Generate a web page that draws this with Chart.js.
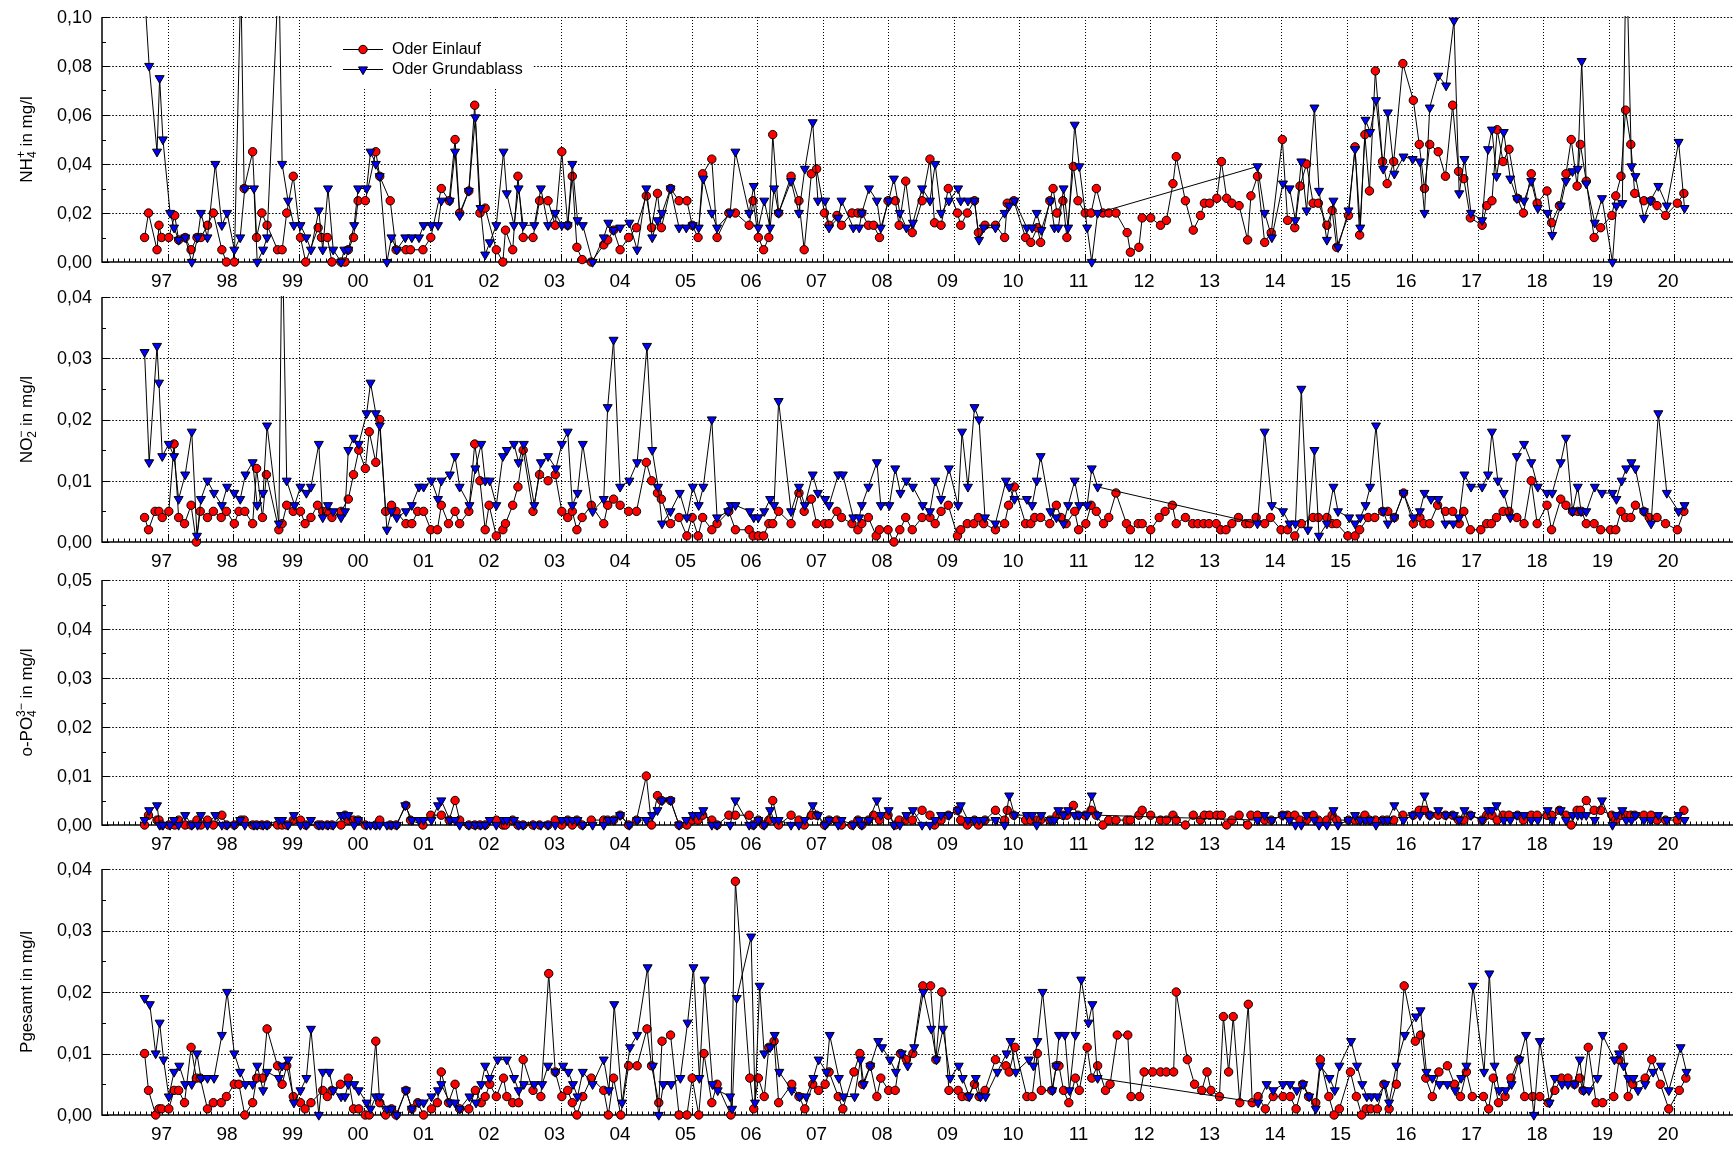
<!DOCTYPE html>
<html lang="de">
<head>
<meta charset="utf-8">
<title>Oder – Einlauf und Grundablass</title>
<script src="https://cdn.jsdelivr.net/npm/chart.js@4.4.1/dist/chart.umd.min.js"></script>
<style>
  html, body { margin: 0; padding: 0; background: #fff; }
  body { position: relative; width: 1733px; height: 1152px; overflow: hidden; }
  canvas { position: absolute; left: 0; }
</style>
</head>
<body>
<canvas id="pNH4" width="1733" height="300" style="top:0px"></canvas>
<canvas id="pNO2" width="1733" height="300" style="top:280px"></canvas>
<canvas id="pPO4" width="1733" height="300" style="top:563px"></canvas>
<canvas id="pPges" width="1733" height="301" style="top:852px"></canvas>
<script>
// Year labels on the time axis (one per calendar year, placed at 1 January)
const yearTickLabels = ['97','98','99','00','01','02','03','04','05','06','07','08','09','10','11','12','13','14','15','16','17','18','19','20'];

// Sampling date (decimal year) and concentration in mg/l

// NH4+
const nh4Einlauf = [[1996.65,0.010],[1996.71,0.020],[1996.84,0.005],[1996.87,0.015],[1996.91,0.010],[1997.02,0.010],[1997.11,0.019],[1997.17,0.009],[1997.27,0.010],[1997.36,0.005],[1997.45,0.010],[1997.51,0.010],[1997.61,0.015],[1997.70,0.020],[1997.83,0.005],[1997.90,0.000],[1998.02,0.000],[1998.12,0.115],[1998.17,0.030],[1998.30,0.045],[1998.36,0.010],[1998.44,0.020],[1998.52,0.015],[1998.68,0.005],[1998.75,0.005],[1998.82,0.020],[1998.92,0.035],[1999.03,0.010],[1999.11,0.000],[1999.30,0.014],[1999.35,0.010],[1999.44,0.010],[1999.51,0.000],[1999.65,0.000],[1999.71,0.000],[1999.76,0.005],[1999.84,0.010],[1999.91,0.025],[2000.02,0.025],[2000.18,0.045],[2000.24,0.035],[2000.40,0.025],[2000.49,0.005],[2000.64,0.005],[2000.71,0.005],[2000.90,0.005],[2001.02,0.010],[2001.18,0.030],[2001.30,0.025],[2001.39,0.050],[2001.46,0.020],[2001.60,0.029],[2001.69,0.064],[2001.77,0.020],[2001.85,0.022],[2002.02,0.005],[2002.12,0.000],[2002.16,0.013],[2002.27,0.005],[2002.35,0.035],[2002.43,0.010],[2002.58,0.010],[2002.68,0.025],[2002.81,0.025],[2002.92,0.015],[2003.02,0.045],[2003.11,0.015],[2003.18,0.035],[2003.25,0.006],[2003.33,0.001],[2003.47,0.000],[2003.66,0.007],[2003.72,0.009],[2003.81,0.013],[2003.91,0.005],[2004.04,0.010],[2004.16,0.014],[2004.31,0.027],[2004.39,0.014],[2004.48,0.028],[2004.54,0.014],[2004.68,0.030],[2004.81,0.025],[2004.93,0.025],[2005.01,0.015],[2005.10,0.010],[2005.17,0.036],[2005.31,0.042],[2005.39,0.010],[2005.57,0.020],[2005.67,0.020],[2005.88,0.015],[2005.94,0.025],[2006.02,0.010],[2006.10,0.005],[2006.18,0.010],[2006.24,0.052],[2006.33,0.020],[2006.52,0.035],[2006.64,0.025],[2006.72,0.005],[2006.83,0.036],[2006.91,0.038],[2007.03,0.020],[2007.10,0.015],[2007.22,0.019],[2007.29,0.015],[2007.45,0.020],[2007.54,0.020],[2007.60,0.020],[2007.70,0.015],[2007.78,0.015],[2007.87,0.010],[2008.00,0.025],[2008.11,0.025],[2008.17,0.015],[2008.27,0.033],[2008.37,0.012],[2008.52,0.025],[2008.64,0.042],[2008.71,0.016],[2008.81,0.015],[2008.92,0.030],[2009.06,0.020],[2009.11,0.015],[2009.21,0.020],[2009.32,0.025],[2009.38,0.012],[2009.48,0.015],[2009.64,0.015],[2009.78,0.010],[2009.82,0.024],[2009.92,0.025],[2010.10,0.010],[2010.18,0.008],[2010.28,0.014],[2010.33,0.008],[2010.47,0.025],[2010.52,0.030],[2010.58,0.020],[2010.67,0.025],[2010.73,0.010],[2010.83,0.039],[2010.90,0.025],[2011.01,0.020],[2011.10,0.020],[2011.18,0.030],[2011.28,0.020],[2011.37,0.020],[2011.48,0.020],[2011.65,0.012],[2011.70,0.004],[2011.83,0.006],[2011.88,0.018],[2012.01,0.018],[2012.16,0.015],[2012.25,0.017],[2012.35,0.032],[2012.40,0.043],[2012.54,0.025],[2012.66,0.013],[2012.77,0.019],[2012.83,0.024],[2012.91,0.024],[2013.02,0.026],[2013.09,0.041],[2013.17,0.026],[2013.25,0.024],[2013.36,0.023],[2013.49,0.009],[2013.54,0.027],[2013.64,0.035],[2013.75,0.008],[2013.85,0.012],[2014.02,0.050],[2014.10,0.017],[2014.21,0.014],[2014.29,0.031],[2014.39,0.040],[2014.49,0.024],[2014.57,0.024],[2014.70,0.015],[2014.78,0.021],[2014.85,0.006],[2015.03,0.019],[2015.13,0.047],[2015.20,0.011],[2015.28,0.052],[2015.35,0.029],[2015.44,0.078],[2015.55,0.041],[2015.62,0.032],[2015.72,0.041],[2015.86,0.081],[2016.02,0.066],[2016.11,0.048],[2016.19,0.030],[2016.27,0.048],[2016.40,0.045],[2016.51,0.035],[2016.62,0.064],[2016.71,0.037],[2016.79,0.034],[2016.89,0.018],[2017.07,0.015],[2017.14,0.023],[2017.22,0.025],[2017.30,0.054],[2017.39,0.041],[2017.48,0.046],[2017.61,0.026],[2017.70,0.020],[2017.82,0.036],[2017.91,0.024],[2018.06,0.029],[2018.13,0.016],[2018.25,0.023],[2018.35,0.036],[2018.43,0.050],[2018.52,0.031],[2018.57,0.048],[2018.66,0.033],[2018.78,0.010],[2018.88,0.014],[2019.05,0.019],[2019.11,0.027],[2019.19,0.035],[2019.26,0.062],[2019.34,0.048],[2019.40,0.028],[2019.54,0.025],[2019.65,0.025],[2019.74,0.023],[2019.87,0.019],[2020.05,0.024],[2020.15,0.028]];
const nh4Grundablass = [[1996.65,0.110],[1996.72,0.080],[1996.84,0.045],[1996.88,0.075],[1996.93,0.050],[1997.04,0.020],[1997.10,0.014],[1997.17,0.009],[1997.27,0.010],[1997.37,0.000],[1997.46,0.010],[1997.51,0.020],[1997.61,0.010],[1997.73,0.040],[1997.83,0.015],[1997.91,0.020],[1998.02,0.005],[1998.11,0.010],[1998.18,0.030],[1998.32,0.030],[1998.37,0.000],[1998.46,0.005],[1998.52,0.010],[1998.70,0.120],[1998.75,0.040],[1998.84,0.025],[1998.93,0.015],[1999.03,0.015],[1999.12,0.010],[1999.19,0.005],[1999.31,0.021],[1999.37,0.005],[1999.45,0.030],[1999.53,0.005],[1999.65,0.000],[1999.70,0.005],[1999.76,0.005],[1999.85,0.015],[1999.91,0.030],[2000.04,0.030],[2000.10,0.045],[2000.18,0.040],[2000.24,0.035],[2000.35,0.000],[2000.42,0.010],[2000.50,0.005],[2000.63,0.010],[2000.73,0.010],[2000.84,0.010],[2000.91,0.015],[2001.03,0.015],[2001.13,0.015],[2001.18,0.025],[2001.31,0.025],[2001.39,0.045],[2001.46,0.019],[2001.60,0.029],[2001.70,0.059],[2001.78,0.022],[2001.85,0.003],[2001.92,0.008],[2002.02,0.015],[2002.13,0.045],[2002.18,0.028],[2002.29,0.015],[2002.36,0.030],[2002.43,0.015],[2002.60,0.015],[2002.70,0.030],[2002.81,0.015],[2002.92,0.020],[2003.02,0.015],[2003.11,0.015],[2003.18,0.040],[2003.26,0.017],[2003.34,0.015],[2003.49,0.000],[2003.66,0.010],[2003.73,0.016],[2003.81,0.013],[2003.91,0.014],[2004.05,0.016],[2004.17,0.005],[2004.31,0.030],[2004.40,0.010],[2004.48,0.017],[2004.55,0.020],[2004.68,0.030],[2004.81,0.014],[2004.92,0.014],[2005.02,0.015],[2005.11,0.014],[2005.18,0.034],[2005.31,0.020],[2005.39,0.014],[2005.59,0.020],[2005.67,0.045],[2005.88,0.020],[2005.95,0.031],[2006.02,0.014],[2006.11,0.025],[2006.20,0.014],[2006.26,0.030],[2006.33,0.020],[2006.52,0.033],[2006.64,0.020],[2006.73,0.038],[2006.85,0.057],[2006.93,0.025],[2007.04,0.025],[2007.10,0.014],[2007.24,0.018],[2007.29,0.025],[2007.47,0.014],[2007.56,0.014],[2007.60,0.020],[2007.71,0.030],[2007.83,0.025],[2007.89,0.014],[2008.01,0.025],[2008.09,0.034],[2008.18,0.020],[2008.28,0.014],[2008.38,0.016],[2008.52,0.030],[2008.64,0.025],[2008.72,0.040],[2008.81,0.020],[2008.93,0.025],[2009.07,0.030],[2009.11,0.025],[2009.22,0.025],[2009.32,0.025],[2009.39,0.009],[2009.46,0.014],[2009.64,0.014],[2009.78,0.020],[2009.85,0.023],[2009.93,0.025],[2010.12,0.014],[2010.20,0.014],[2010.27,0.020],[2010.34,0.013],[2010.48,0.025],[2010.54,0.014],[2010.60,0.014],[2010.68,0.030],[2010.75,0.014],[2010.85,0.056],[2010.92,0.039],[2011.04,0.014],[2011.11,0.000],[2011.20,0.020],[2013.64,0.039],[2013.75,0.020],[2013.86,0.010],[2014.03,0.032],[2014.13,0.030],[2014.22,0.017],[2014.31,0.041],[2014.39,0.021],[2014.51,0.063],[2014.58,0.029],[2014.70,0.009],[2014.80,0.025],[2014.87,0.006],[2015.03,0.021],[2015.13,0.046],[2015.21,0.014],[2015.29,0.058],[2015.36,0.053],[2015.45,0.066],[2015.56,0.038],[2015.63,0.061],[2015.73,0.036],[2015.87,0.043],[2016.01,0.042],[2016.12,0.041],[2016.19,0.020],[2016.27,0.063],[2016.40,0.076],[2016.52,0.072],[2016.64,0.0985],[2016.72,0.028],[2016.80,0.042],[2016.90,0.020],[2017.07,0.017],[2017.16,0.046],[2017.22,0.054],[2017.29,0.035],[2017.40,0.053],[2017.50,0.034],[2017.60,0.026],[2017.71,0.025],[2017.82,0.033],[2017.92,0.022],[2018.07,0.020],[2018.14,0.011],[2018.27,0.023],[2018.35,0.033],[2018.45,0.037],[2018.53,0.038],[2018.59,0.082],[2018.66,0.032],[2018.79,0.016],[2018.90,0.026],[2019.06,0.000],[2019.12,0.023],[2019.21,0.024],[2019.27,0.130],[2019.35,0.039],[2019.41,0.035],[2019.54,0.018],[2019.64,0.025],[2019.76,0.031],[2019.89,0.023],[2020.07,0.049],[2020.16,0.022]];

// NO2-
const no2Einlauf = [[1996.65,0.004],[1996.71,0.002],[1996.81,0.005],[1996.87,0.005],[1996.92,0.004],[1997.02,0.005],[1997.10,0.016],[1997.17,0.004],[1997.26,0.003],[1997.36,0.006],[1997.44,0.000],[1997.50,0.005],[1997.61,0.004],[1997.70,0.005],[1997.82,0.004],[1997.90,0.005],[1998.02,0.003],[1998.09,0.005],[1998.18,0.005],[1998.30,0.003],[1998.36,0.012],[1998.45,0.004],[1998.51,0.011],[1998.70,0.002],[1998.75,0.003],[1998.82,0.006],[1998.92,0.005],[1999.03,0.005],[1999.10,0.003],[1999.19,0.004],[1999.29,0.006],[1999.37,0.005],[1999.44,0.005],[1999.51,0.004],[1999.65,0.005],[1999.76,0.007],[1999.84,0.011],[1999.92,0.015],[2000.02,0.012],[2000.08,0.018],[2000.18,0.013],[2000.24,0.020],[2000.33,0.005],[2000.42,0.006],[2000.49,0.005],[2000.64,0.003],[2000.73,0.003],[2000.82,0.005],[2000.91,0.005],[2001.02,0.002],[2001.12,0.002],[2001.18,0.006],[2001.29,0.003],[2001.39,0.005],[2001.46,0.003],[2001.60,0.005],[2001.69,0.016],[2001.77,0.010],[2001.85,0.002],[2001.91,0.006],[2002.02,0.001],[2002.12,0.002],[2002.16,0.003],[2002.27,0.006],[2002.35,0.009],[2002.43,0.015],[2002.58,0.005],[2002.68,0.011],[2002.81,0.010],[2002.92,0.011],[2003.02,0.005],[2003.11,0.004],[2003.18,0.005],[2003.25,0.002],[2003.33,0.004],[2003.47,0.006],[2003.66,0.003],[2003.72,0.006],[2003.81,0.007],[2003.91,0.006],[2004.04,0.005],[2004.16,0.005],[2004.31,0.013],[2004.39,0.010],[2004.48,0.008],[2004.54,0.007],[2004.68,0.003],[2004.81,0.004],[2004.93,0.001],[2005.01,0.004],[2005.10,0.001],[2005.17,0.004],[2005.31,0.002],[2005.39,0.003],[2005.57,0.005],[2005.67,0.002],[2005.88,0.002],[2005.94,0.001],[2006.02,0.001],[2006.10,0.001],[2006.18,0.003],[2006.24,0.003],[2006.33,0.005],[2006.52,0.003],[2006.64,0.008],[2006.72,0.005],[2006.83,0.007],[2006.91,0.003],[2007.03,0.003],[2007.10,0.003],[2007.22,0.005],[2007.29,0.004],[2007.45,0.003],[2007.54,0.002],[2007.60,0.003],[2007.70,0.004],[2007.82,0.001],[2007.87,0.002],[2008.00,0.002],[2008.09,0.000],[2008.18,0.002],[2008.27,0.004],[2008.37,0.002],[2008.52,0.004],[2008.64,0.004],[2008.72,0.003],[2008.81,0.005],[2008.92,0.006],[2009.06,0.001],[2009.11,0.002],[2009.21,0.003],[2009.31,0.003],[2009.38,0.004],[2009.46,0.003],[2009.64,0.002],[2009.78,0.003],[2009.84,0.006],[2009.93,0.009],[2010.10,0.003],[2010.18,0.003],[2010.24,0.004],[2010.33,0.004],[2010.47,0.003],[2010.57,0.006],[2010.64,0.004],[2010.72,0.003],[2010.85,0.005],[2010.91,0.002],[2011.02,0.003],[2011.10,0.006],[2011.18,0.005],[2011.29,0.003],[2011.37,0.004],[2011.48,0.008],[2011.64,0.003],[2011.70,0.002],[2011.82,0.003],[2011.88,0.003],[2012.01,0.002],[2012.14,0.004],[2012.23,0.005],[2012.34,0.006],[2012.40,0.003],[2012.54,0.004],[2012.65,0.003],[2012.73,0.003],[2012.82,0.003],[2012.90,0.003],[2013.01,0.003],[2013.08,0.002],[2013.16,0.002],[2013.25,0.003],[2013.35,0.004],[2013.46,0.003],[2013.52,0.003],[2013.62,0.004],[2013.75,0.003],[2013.84,0.004],[2014.00,0.002],[2014.10,0.002],[2014.21,0.001],[2014.31,0.003],[2014.49,0.004],[2014.57,0.004],[2014.70,0.004],[2014.78,0.003],[2014.85,0.003],[2015.02,0.001],[2015.13,0.001],[2015.20,0.002],[2015.33,0.004],[2015.43,0.004],[2015.55,0.005],[2015.63,0.005],[2015.73,0.004],[2015.87,0.008],[2016.02,0.003],[2016.12,0.004],[2016.18,0.003],[2016.27,0.003],[2016.39,0.006],[2016.51,0.005],[2016.62,0.005],[2016.72,0.003],[2016.79,0.005],[2016.89,0.002],[2017.05,0.002],[2017.14,0.003],[2017.21,0.003],[2017.29,0.004],[2017.39,0.005],[2017.48,0.005],[2017.60,0.004],[2017.71,0.003],[2017.82,0.010],[2017.91,0.003],[2018.06,0.006],[2018.13,0.002],[2018.27,0.007],[2018.35,0.006],[2018.45,0.005],[2018.53,0.005],[2018.59,0.005],[2018.66,0.003],[2018.78,0.003],[2018.88,0.002],[2019.03,0.002],[2019.11,0.002],[2019.19,0.005],[2019.26,0.004],[2019.34,0.004],[2019.41,0.006],[2019.54,0.005],[2019.62,0.004],[2019.74,0.004],[2019.87,0.003],[2020.05,0.002],[2020.15,0.005]];
const no2Grundablass = [[1996.65,0.031],[1996.72,0.013],[1996.84,0.032],[1996.87,0.026],[1996.92,0.014],[1997.02,0.016],[1997.10,0.014],[1997.17,0.007],[1997.27,0.011],[1997.37,0.018],[1997.45,0.001],[1997.51,0.007],[1997.61,0.010],[1997.71,0.008],[1997.83,0.006],[1997.91,0.009],[1998.02,0.008],[1998.11,0.007],[1998.19,0.011],[1998.30,0.013],[1998.37,0.006],[1998.46,0.008],[1998.52,0.019],[1998.70,0.003],[1998.75,0.052],[1998.82,0.010],[1998.94,0.006],[1999.03,0.009],[1999.12,0.008],[1999.19,0.009],[1999.31,0.016],[1999.37,0.004],[1999.45,0.006],[1999.53,0.005],[1999.65,0.004],[1999.71,0.005],[1999.76,0.015],[1999.84,0.017],[1999.92,0.016],[2000.04,0.021],[2000.10,0.026],[2000.18,0.021],[2000.24,0.019],[2000.35,0.002],[2000.42,0.005],[2000.50,0.004],[2000.64,0.005],[2000.73,0.006],[2000.84,0.009],[2000.91,0.009],[2001.03,0.010],[2001.13,0.007],[2001.18,0.010],[2001.31,0.011],[2001.39,0.014],[2001.46,0.009],[2001.61,0.006],[2001.70,0.012],[2001.79,0.016],[2001.85,0.010],[2001.92,0.010],[2002.02,0.006],[2002.12,0.014],[2002.18,0.015],[2002.29,0.016],[2002.36,0.013],[2002.44,0.016],[2002.60,0.006],[2002.70,0.013],[2002.81,0.014],[2002.93,0.012],[2003.02,0.016],[2003.11,0.018],[2003.18,0.006],[2003.26,0.008],[2003.34,0.016],[2003.49,0.005],[2003.66,0.007],[2003.72,0.022],[2003.81,0.033],[2003.91,0.009],[2004.05,0.010],[2004.17,0.013],[2004.32,0.032],[2004.40,0.015],[2004.49,0.009],[2004.55,0.003],[2004.68,0.005],[2004.82,0.008],[2004.93,0.004],[2005.02,0.009],[2005.11,0.006],[2005.18,0.009],[2005.31,0.020],[2005.39,0.004],[2005.56,0.005],[2005.60,0.006],[2005.67,0.006],[2005.89,0.005],[2005.95,0.004],[2006.02,0.004],[2006.11,0.005],[2006.20,0.007],[2006.26,0.006],[2006.33,0.023],[2006.52,0.005],[2006.64,0.009],[2006.73,0.006],[2006.85,0.011],[2006.93,0.008],[2007.04,0.007],[2007.10,0.006],[2007.24,0.011],[2007.31,0.011],[2007.47,0.004],[2007.56,0.004],[2007.60,0.006],[2007.70,0.009],[2007.83,0.013],[2007.89,0.006],[2008.02,0.006],[2008.11,0.012],[2008.19,0.008],[2008.28,0.010],[2008.38,0.009],[2008.53,0.006],[2008.64,0.005],[2008.72,0.010],[2008.81,0.007],[2008.93,0.012],[2009.07,0.006],[2009.13,0.018],[2009.22,0.009],[2009.32,0.022],[2009.39,0.020],[2009.48,0.004],[2009.64,0.003],[2009.80,0.010],[2009.85,0.009],[2009.93,0.007],[2010.12,0.007],[2010.20,0.006],[2010.27,0.010],[2010.33,0.014],[2010.48,0.005],[2010.57,0.004],[2010.68,0.003],[2010.75,0.006],[2010.85,0.010],[2010.92,0.006],[2011.04,0.006],[2011.11,0.012],[2011.20,0.009],[2013.64,0.003],[2013.75,0.018],[2013.86,0.006],[2014.03,0.005],[2014.13,0.003],[2014.22,0.003],[2014.31,0.025],[2014.41,0.002],[2014.51,0.015],[2014.58,0.001],[2014.70,0.003],[2014.80,0.009],[2014.87,0.005],[2015.04,0.004],[2015.13,0.003],[2015.21,0.004],[2015.29,0.006],[2015.36,0.009],[2015.45,0.019],[2015.56,0.005],[2015.63,0.003],[2015.73,0.004],[2015.87,0.008],[2016.02,0.004],[2016.12,0.005],[2016.19,0.008],[2016.29,0.007],[2016.40,0.007],[2016.51,0.003],[2016.63,0.003],[2016.72,0.004],[2016.80,0.011],[2016.90,0.009],[2017.07,0.009],[2017.16,0.011],[2017.22,0.018],[2017.31,0.010],[2017.40,0.008],[2017.50,0.004],[2017.60,0.014],[2017.71,0.016],[2017.82,0.013],[2017.92,0.009],[2018.06,0.008],[2018.14,0.008],[2018.27,0.013],[2018.35,0.017],[2018.45,0.005],[2018.53,0.009],[2018.58,0.005],[2018.66,0.005],[2018.79,0.009],[2018.90,0.008],[2019.06,0.008],[2019.12,0.007],[2019.20,0.010],[2019.27,0.012],[2019.35,0.013],[2019.41,0.012],[2019.54,0.005],[2019.65,0.003],[2019.76,0.021],[2019.89,0.008],[2020.07,0.005],[2020.16,0.006]];

// o-PO4 3-
const po4Einlauf = [[1996.65,0.000],[1996.71,0.002],[1996.84,0.001],[1996.87,0.001],[1996.91,0.000],[1997.02,0.000],[1997.11,0.000],[1997.17,0.001],[1997.27,0.000],[1997.36,0.000],[1997.45,0.001],[1997.51,0.000],[1997.61,0.001],[1997.70,0.000],[1997.83,0.002],[1997.90,0.000],[1998.02,0.000],[1998.12,0.001],[1998.17,0.001],[1998.30,0.000],[1998.36,0.000],[1998.44,0.000],[1998.52,0.000],[1998.68,0.000],[1998.75,0.000],[1998.82,0.000],[1998.92,0.001],[1999.03,0.001],[1999.11,0.000],[1999.30,0.000],[1999.35,0.000],[1999.44,0.000],[1999.51,0.000],[1999.65,0.000],[1999.71,0.002],[1999.76,0.001],[1999.84,0.001],[1999.91,0.001],[2000.02,0.000],[2000.18,0.000],[2000.24,0.001],[2000.40,0.000],[2000.49,0.000],[2000.64,0.004],[2000.71,0.001],[2000.90,0.000],[2001.02,0.002],[2001.18,0.002],[2001.30,0.001],[2001.39,0.005],[2001.46,0.001],[2001.60,0.000],[2001.69,0.000],[2001.77,0.000],[2001.85,0.000],[2002.02,0.001],[2002.12,0.000],[2002.16,0.000],[2002.27,0.001],[2002.35,0.000],[2002.43,0.000],[2002.58,0.000],[2002.68,0.000],[2002.81,0.000],[2002.92,0.001],[2003.02,0.000],[2003.11,0.001],[2003.18,0.000],[2003.25,0.001],[2003.33,0.000],[2003.47,0.001],[2003.66,0.001],[2003.72,0.001],[2003.81,0.001],[2003.91,0.002],[2004.04,0.000],[2004.16,0.001],[2004.31,0.010],[2004.39,0.000],[2004.48,0.006],[2004.54,0.005],[2004.68,0.005],[2004.81,0.000],[2004.93,0.000],[2005.01,0.001],[2005.10,0.001],[2005.17,0.002],[2005.31,0.001],[2005.39,0.000],[2005.57,0.002],[2005.67,0.002],[2005.88,0.002],[2005.94,0.000],[2006.02,0.001],[2006.10,0.000],[2006.18,0.001],[2006.24,0.005],[2006.33,0.000],[2006.52,0.002],[2006.64,0.001],[2006.72,0.000],[2006.83,0.002],[2006.91,0.002],[2007.03,0.000],[2007.10,0.001],[2007.22,0.001],[2007.29,0.000],[2007.45,0.000],[2007.54,0.001],[2007.60,0.000],[2007.70,0.001],[2007.78,0.002],[2007.87,0.001],[2008.00,0.002],[2008.11,0.000],[2008.17,0.001],[2008.27,0.001],[2008.37,0.001],[2008.52,0.003],[2008.64,0.002],[2008.71,0.000],[2008.81,0.001],[2008.92,0.002],[2009.06,0.003],[2009.11,0.001],[2009.21,0.000],[2009.32,0.001],[2009.38,0.000],[2009.48,0.001],[2009.64,0.003],[2009.78,0.001],[2009.82,0.003],[2009.92,0.002],[2010.10,0.001],[2010.18,0.001],[2010.28,0.001],[2010.33,0.001],[2010.47,0.001],[2010.52,0.001],[2010.58,0.002],[2010.67,0.002],[2010.73,0.002],[2010.83,0.004],[2010.90,0.002],[2011.01,0.002],[2011.10,0.003],[2011.18,0.002],[2011.28,0.000],[2011.37,0.001],[2011.48,0.001],[2011.65,0.001],[2011.70,0.001],[2011.83,0.002],[2011.88,0.003],[2012.01,0.002],[2012.16,0.001],[2012.25,0.001],[2012.35,0.002],[2012.40,0.001],[2012.54,0.000],[2012.66,0.002],[2012.77,0.001],[2012.83,0.002],[2012.91,0.002],[2013.02,0.002],[2013.09,0.002],[2013.17,0.000],[2013.25,0.001],[2013.36,0.002],[2013.49,0.000],[2013.54,0.002],[2013.64,0.002],[2013.75,0.001],[2013.85,0.001],[2014.02,0.002],[2014.10,0.002],[2014.21,0.002],[2014.29,0.001],[2014.39,0.001],[2014.49,0.002],[2014.57,0.001],[2014.70,0.001],[2014.78,0.002],[2014.85,0.001],[2015.03,0.001],[2015.13,0.001],[2015.20,0.001],[2015.28,0.002],[2015.35,0.001],[2015.44,0.001],[2015.55,0.001],[2015.62,0.001],[2015.72,0.001],[2015.86,0.002],[2016.02,0.002],[2016.11,0.003],[2016.19,0.003],[2016.27,0.002],[2016.40,0.002],[2016.51,0.002],[2016.62,0.002],[2016.71,0.001],[2016.79,0.001],[2016.89,0.002],[2017.07,0.001],[2017.14,0.002],[2017.22,0.002],[2017.30,0.001],[2017.39,0.002],[2017.48,0.002],[2017.61,0.002],[2017.70,0.001],[2017.82,0.002],[2017.91,0.002],[2018.06,0.002],[2018.13,0.002],[2018.25,0.003],[2018.35,0.002],[2018.43,0.000],[2018.52,0.003],[2018.57,0.003],[2018.66,0.005],[2018.78,0.003],[2018.88,0.003],[2019.05,0.002],[2019.11,0.001],[2019.19,0.002],[2019.26,0.002],[2019.34,0.002],[2019.40,0.002],[2019.54,0.002],[2019.65,0.002],[2019.74,0.001],[2019.87,0.001],[2020.05,0.001],[2020.15,0.003]];
const po4Grundablass = [[1996.65,0.001],[1996.72,0.003],[1996.84,0.004],[1996.88,0.000],[1996.93,0.000],[1997.04,0.000],[1997.10,0.001],[1997.17,0.000],[1997.27,0.002],[1997.37,0.000],[1997.46,0.000],[1997.51,0.002],[1997.61,0.000],[1997.73,0.002],[1997.83,0.000],[1997.91,0.000],[1998.02,0.000],[1998.11,0.001],[1998.18,0.000],[1998.32,0.000],[1998.37,0.000],[1998.46,0.000],[1998.52,0.000],[1998.70,0.001],[1998.75,0.001],[1998.84,0.000],[1998.93,0.002],[1999.03,0.000],[1999.12,0.000],[1999.19,0.001],[1999.31,0.000],[1999.37,0.000],[1999.45,0.000],[1999.53,0.000],[1999.65,0.002],[1999.70,0.002],[1999.76,0.002],[1999.85,0.000],[1999.91,0.001],[2000.04,0.000],[2000.10,0.000],[2000.18,0.000],[2000.24,0.000],[2000.35,0.000],[2000.42,0.000],[2000.50,0.000],[2000.63,0.004],[2000.73,0.001],[2000.84,0.001],[2000.91,0.001],[2001.03,0.001],[2001.13,0.004],[2001.18,0.005],[2001.31,0.001],[2001.39,0.001],[2001.46,0.000],[2001.60,0.000],[2001.70,0.000],[2001.78,0.000],[2001.85,0.000],[2001.92,0.001],[2002.02,0.000],[2002.13,0.001],[2002.18,0.001],[2002.29,0.001],[2002.36,0.000],[2002.43,0.000],[2002.60,0.000],[2002.70,0.000],[2002.81,0.000],[2002.92,0.000],[2003.02,0.001],[2003.11,0.001],[2003.18,0.001],[2003.26,0.001],[2003.34,0.000],[2003.49,0.000],[2003.66,0.000],[2003.73,0.001],[2003.81,0.001],[2003.91,0.002],[2004.05,0.000],[2004.17,0.001],[2004.31,0.001],[2004.40,0.002],[2004.48,0.003],[2004.55,0.005],[2004.68,0.005],[2004.81,0.000],[2004.92,0.001],[2005.02,0.002],[2005.11,0.002],[2005.18,0.003],[2005.31,0.000],[2005.39,0.000],[2005.59,0.000],[2005.67,0.005],[2005.88,0.000],[2005.95,0.000],[2006.02,0.001],[2006.11,0.000],[2006.20,0.003],[2006.26,0.001],[2006.33,0.001],[2006.52,0.000],[2006.64,0.000],[2006.73,0.001],[2006.85,0.004],[2006.93,0.002],[2007.04,0.000],[2007.10,0.001],[2007.24,0.000],[2007.29,0.001],[2007.47,0.000],[2007.56,0.001],[2007.60,0.000],[2007.71,0.001],[2007.83,0.005],[2007.89,0.002],[2008.01,0.003],[2008.09,0.000],[2008.18,0.000],[2008.28,0.002],[2008.38,0.003],[2008.52,0.000],[2008.64,0.000],[2008.72,0.001],[2008.81,0.002],[2008.93,0.002],[2009.07,0.003],[2009.11,0.004],[2009.22,0.001],[2009.32,0.001],[2009.39,0.001],[2009.46,0.001],[2009.64,0.001],[2009.78,0.000],[2009.85,0.006],[2009.93,0.002],[2010.12,0.002],[2010.20,0.002],[2010.27,0.000],[2010.34,0.002],[2010.48,0.001],[2010.54,0.001],[2010.60,0.003],[2010.68,0.002],[2010.75,0.003],[2010.85,0.002],[2010.92,0.002],[2011.04,0.002],[2011.11,0.006],[2011.20,0.002],[2013.64,0.001],[2013.75,0.002],[2013.86,0.001],[2014.03,0.002],[2014.13,0.001],[2014.22,0.000],[2014.31,0.000],[2014.39,0.002],[2014.51,0.001],[2014.58,0.000],[2014.70,0.000],[2014.80,0.003],[2014.87,0.000],[2015.03,0.001],[2015.13,0.002],[2015.21,0.001],[2015.29,0.001],[2015.36,0.001],[2015.45,0.000],[2015.56,0.001],[2015.63,0.001],[2015.73,0.004],[2015.87,0.001],[2016.01,0.002],[2016.12,0.002],[2016.19,0.006],[2016.27,0.002],[2016.40,0.003],[2016.52,0.002],[2016.64,0.002],[2016.72,0.001],[2016.80,0.003],[2016.90,0.002],[2017.07,0.001],[2017.16,0.003],[2017.22,0.003],[2017.29,0.004],[2017.40,0.001],[2017.50,0.001],[2017.60,0.002],[2017.71,0.002],[2017.82,0.001],[2017.92,0.001],[2018.07,0.003],[2018.14,0.001],[2018.27,0.003],[2018.35,0.001],[2018.45,0.002],[2018.53,0.002],[2018.59,0.002],[2018.66,0.002],[2018.79,0.001],[2018.90,0.005],[2019.06,0.000],[2019.12,0.002],[2019.21,0.003],[2019.27,0.001],[2019.35,0.001],[2019.41,0.002],[2019.54,0.001],[2019.64,0.001],[2019.76,0.002],[2019.89,0.001],[2020.07,0.002],[2020.16,0.001]];

// P gesamt
const pgesEinlauf = [[1996.65,0.010],[1996.71,0.004],[1996.82,0.000],[1996.87,0.001],[1996.91,0.001],[1997.02,0.001],[1997.10,0.004],[1997.17,0.004],[1997.26,0.002],[1997.36,0.011],[1997.44,0.006],[1997.50,0.006],[1997.61,0.001],[1997.70,0.002],[1997.82,0.002],[1997.90,0.003],[1998.02,0.005],[1998.09,0.005],[1998.18,0.000],[1998.30,0.002],[1998.36,0.006],[1998.45,0.006],[1998.52,0.014],[1998.68,0.008],[1998.75,0.005],[1998.82,0.008],[1998.92,0.003],[1999.03,0.002],[1999.10,0.001],[1999.19,0.002],[1999.37,0.004],[1999.44,0.003],[1999.51,0.004],[1999.64,0.005],[1999.76,0.006],[1999.84,0.001],[1999.92,0.001],[2000.02,0.000],[2000.08,0.000],[2000.18,0.012],[2000.24,0.002],[2000.33,0.000],[2000.42,0.001],[2000.49,0.000],[2000.64,0.004],[2000.73,0.001],[2000.82,0.002],[2000.91,0.000],[2001.03,0.001],[2001.12,0.002],[2001.18,0.007],[2001.29,0.002],[2001.39,0.005],[2001.46,0.001],[2001.60,0.001],[2001.70,0.004],[2001.79,0.002],[2001.85,0.003],[2001.92,0.005],[2002.02,0.003],[2002.13,0.006],[2002.18,0.003],[2002.27,0.002],[2002.36,0.002],[2002.43,0.009],[2002.58,0.004],[2002.70,0.003],[2002.82,0.023],[2002.92,0.007],[2003.02,0.003],[2003.11,0.004],[2003.18,0.002],[2003.25,0.000],[2003.34,0.003],[2003.47,0.006],[2003.66,0.004],[2003.73,0.000],[2003.81,0.006],[2003.92,0.000],[2004.04,0.008],[2004.17,0.008],[2004.32,0.014],[2004.39,0.008],[2004.50,0.002],[2004.55,0.012],[2004.68,0.013],[2004.81,0.000],[2004.93,0.000],[2005.01,0.006],[2005.11,0.000],[2005.19,0.010],[2005.31,0.002],[2005.39,0.005],[2005.60,0.000],[2005.67,0.038],[2005.89,0.006],[2005.95,0.001],[2006.02,0.006],[2006.11,0.003],[2006.18,0.011],[2006.26,0.012],[2006.33,0.002],[2006.53,0.005],[2006.64,0.003],[2006.73,0.001],[2006.85,0.005],[2006.94,0.004],[2007.04,0.005],[2007.10,0.007],[2007.24,0.003],[2007.31,0.001],[2007.48,0.007],[2007.57,0.010],[2007.61,0.005],[2007.73,0.008],[2007.83,0.003],[2007.89,0.006],[2008.01,0.004],[2008.11,0.004],[2008.19,0.010],[2008.28,0.009],[2008.38,0.010],[2008.53,0.021],[2008.65,0.021],[2008.73,0.009],[2008.82,0.020],[2008.93,0.004],[2009.07,0.004],[2009.13,0.003],[2009.22,0.003],[2009.32,0.005],[2009.39,0.003],[2009.48,0.004],[2009.64,0.009],[2009.80,0.008],[2009.85,0.007],[2009.94,0.011],[2010.12,0.003],[2010.20,0.003],[2010.28,0.010],[2010.34,0.004],[2010.50,0.004],[2010.57,0.008],[2010.61,0.008],[2010.68,0.004],[2010.76,0.002],[2010.86,0.006],[2010.92,0.004],[2011.04,0.011],[2011.11,0.006],[2011.20,0.008],[2011.32,0.004],[2011.39,0.005],[2011.50,0.013],[2011.66,0.013],[2011.71,0.003],[2011.84,0.003],[2011.91,0.007],[2012.04,0.007],[2012.16,0.007],[2012.25,0.007],[2012.36,0.007],[2012.40,0.020],[2012.57,0.009],[2012.68,0.005],[2012.79,0.004],[2012.87,0.007],[2012.93,0.004],[2013.06,0.003],[2013.12,0.016],[2013.20,0.007],[2013.27,0.016],[2013.37,0.002],[2013.50,0.018],[2013.56,0.002],[2013.65,0.003],[2013.76,0.001],[2013.88,0.003],[2014.03,0.003],[2014.14,0.003],[2014.23,0.001],[2014.33,0.005],[2014.42,0.003],[2014.53,0.002],[2014.60,0.009],[2014.73,0.003],[2014.81,0.000],[2014.89,0.001],[2015.06,0.007],[2015.15,0.003],[2015.23,0.000],[2015.30,0.001],[2015.37,0.001],[2015.47,0.001],[2015.57,0.005],[2015.65,0.001],[2015.76,0.005],[2015.88,0.021],[2016.05,0.012],[2016.13,0.013],[2016.21,0.006],[2016.31,0.003],[2016.41,0.007],[2016.54,0.008],[2016.65,0.005],[2016.74,0.003],[2016.83,0.007],[2016.92,0.003],[2017.09,0.003],[2017.17,0.001],[2017.24,0.006],[2017.32,0.002],[2017.42,0.003],[2017.51,0.006],[2017.63,0.009],[2017.72,0.003],[2017.84,0.003],[2017.95,0.003],[2018.08,0.002],[2018.18,0.004],[2018.28,0.006],[2018.38,0.006],[2018.48,0.005],[2018.56,0.006],[2018.61,0.004],[2018.69,0.011],[2018.81,0.002],[2018.91,0.002],[2019.08,0.003],[2019.16,0.009],[2019.22,0.011],[2019.30,0.003],[2019.37,0.005],[2019.56,0.006],[2019.66,0.009],[2019.79,0.005],[2019.92,0.001],[2020.08,0.004],[2020.18,0.006]];
const pgesGrundablass = [[1996.65,0.019],[1996.73,0.018],[1996.82,0.010],[1996.88,0.015],[1996.94,0.009],[1997.02,0.003],[1997.10,0.007],[1997.18,0.008],[1997.27,0.005],[1997.37,0.005],[1997.45,0.010],[1997.51,0.006],[1997.61,0.006],[1997.71,0.006],[1997.83,0.013],[1997.91,0.020],[1998.02,0.010],[1998.11,0.007],[1998.19,0.005],[1998.30,0.005],[1998.37,0.008],[1998.46,0.004],[1998.52,0.007],[1998.70,0.006],[1998.75,0.008],[1998.84,0.009],[1998.93,0.002],[1999.03,0.004],[1999.12,0.006],[1999.19,0.014],[1999.31,0.000],[1999.37,0.007],[1999.47,0.007],[1999.53,0.004],[1999.65,0.003],[1999.71,0.003],[1999.76,0.005],[1999.85,0.005],[1999.92,0.004],[2000.04,0.002],[2000.10,0.001],[2000.18,0.003],[2000.24,0.003],[2000.35,0.001],[2000.42,0.001],[2000.50,0.000],[2000.64,0.004],[2000.73,0.001],[2000.84,0.002],[2000.91,0.002],[2001.03,0.003],[2001.13,0.004],[2001.18,0.005],[2001.31,0.002],[2001.39,0.002],[2001.46,0.001],[2001.61,0.003],[2001.71,0.002],[2001.79,0.005],[2001.85,0.008],[2001.92,0.006],[2002.04,0.009],[2002.18,0.009],[2002.29,0.006],[2002.36,0.004],[2002.44,0.005],[2002.60,0.005],[2002.72,0.005],[2002.81,0.008],[2002.92,0.007],[2003.04,0.008],[2003.12,0.007],[2003.19,0.005],[2003.26,0.003],[2003.34,0.007],[2003.49,0.005],[2003.66,0.009],[2003.74,0.004],[2003.82,0.018],[2003.94,0.002],[2004.06,0.011],[2004.17,0.013],[2004.33,0.024],[2004.41,0.008],[2004.50,0.000],[2004.57,0.005],[2004.69,0.005],[2004.83,0.006],[2004.94,0.015],[2005.03,0.024],[2005.12,0.006],[2005.20,0.022],[2005.32,0.005],[2005.40,0.004],[2005.59,0.003],[2005.62,0.001],[2005.69,0.019],[2005.91,0.029],[2005.97,0.002],[2006.04,0.021],[2006.11,0.010],[2006.20,0.011],[2006.27,0.013],[2006.34,0.007],[2006.53,0.004],[2006.65,0.003],[2006.75,0.003],[2006.86,0.006],[2006.94,0.009],[2007.06,0.007],[2007.11,0.013],[2007.25,0.006],[2007.32,0.003],[2007.49,0.003],[2007.58,0.009],[2007.63,0.005],[2007.73,0.008],[2007.85,0.012],[2007.91,0.011],[2008.03,0.009],[2008.12,0.007],[2008.21,0.010],[2008.30,0.008],[2008.40,0.011],[2008.54,0.020],[2008.66,0.014],[2008.74,0.009],[2008.84,0.014],[2008.95,0.006],[2009.08,0.008],[2009.14,0.006],[2009.24,0.003],[2009.34,0.006],[2009.41,0.003],[2009.49,0.003],[2009.67,0.007],[2009.81,0.010],[2009.87,0.012],[2009.95,0.007],[2010.15,0.009],[2010.22,0.008],[2010.28,0.012],[2010.36,0.020],[2010.51,0.004],[2010.57,0.008],[2010.61,0.013],[2010.70,0.013],[2010.77,0.004],[2010.86,0.013],[2010.95,0.022],[2011.06,0.015],[2011.12,0.018],[2011.20,0.006],[2013.65,0.002],[2013.78,0.005],[2013.88,0.004],[2014.03,0.005],[2014.14,0.005],[2014.24,0.004],[2014.34,0.005],[2014.43,0.003],[2014.53,0.001],[2014.60,0.008],[2014.74,0.006],[2014.82,0.004],[2014.89,0.008],[2015.07,0.012],[2015.16,0.008],[2015.24,0.005],[2015.31,0.003],[2015.38,0.003],[2015.47,0.003],[2015.59,0.005],[2015.65,0.002],[2015.76,0.008],[2015.89,0.013],[2016.06,0.016],[2016.13,0.017],[2016.22,0.007],[2016.31,0.006],[2016.42,0.005],[2016.54,0.005],[2016.66,0.004],[2016.75,0.006],[2016.83,0.008],[2016.93,0.021],[2017.10,0.007],[2017.18,0.023],[2017.26,0.008],[2017.33,0.004],[2017.43,0.004],[2017.52,0.005],[2017.64,0.009],[2017.74,0.013],[2017.86,0.000],[2017.95,0.012],[2018.10,0.002],[2018.18,0.006],[2018.29,0.005],[2018.38,0.005],[2018.48,0.005],[2018.56,0.009],[2018.62,0.004],[2018.70,0.004],[2018.83,0.006],[2018.91,0.013],[2019.09,0.009],[2019.16,0.010],[2019.23,0.008],[2019.30,0.006],[2019.38,0.006],[2019.45,0.004],[2019.56,0.005],[2019.68,0.007],[2019.80,0.008],[2019.92,0.004],[2020.10,0.011],[2020.19,0.007]];

// ---------------------------------------------------------------------------
const X_MIN = 1996, X_MAX = 2020.9;
const PLOT_TOP = 17;          // distance from canvas top to the plot frame
const FONT = '"Liberation Sans", Arial, Helvetica, sans-serif';
Chart.defaults.font.family = FONT;
Chart.defaults.color = '#000';

// Axis title pieces: 0 = normal, 1 = subscript, 2 = superscript (stacked over the subscript)
const panels = [
  { canvas: 'pNH4', max: 0.10, step: 0.02, plotH: 245, legend: true,
    title: [['NH', 0], ['4', 1], ['+', 2], [' in mg/l', 0]],
    einlauf: nh4Einlauf, grund: nh4Grundablass },
  { canvas: 'pNO2', max: 0.04, step: 0.01, plotH: 245,
    title: [['NO', 0], ['2', 1], ['\u2212', 2], [' in mg/l', 0]],
    einlauf: no2Einlauf, grund: no2Grundablass },
  { canvas: 'pPO4', max: 0.05, step: 0.01, plotH: 245,
    title: [['o-PO', 0], ['4', 1], ['3\u2212', 2], [' in mg/l', 0]],
    einlauf: po4Einlauf, grund: po4Grundablass },
  { canvas: 'pPges', max: 0.04, step: 0.01, plotH: 246,
    title: [['Pgesamt in mg/l', 0]],
    einlauf: pgesEinlauf, grund: pgesGrundablass }
];

function seg(ctx, x1, y1, x2, y2) {
  ctx.beginPath(); ctx.moveTo(x1, y1); ctx.lineTo(x2, y2); ctx.stroke();
}

function legendMarker(ctx, kind, cx, cy) {
  ctx.beginPath();
  if (kind === 'circle') {
    ctx.arc(cx, cy, 4.2, 0, Math.PI * 2);
    ctx.fillStyle = '#ff0000';
  } else {
    const r = 5.2, h = r * Math.sin(Math.PI / 3);
    ctx.moveTo(cx - h, cy - r / 2);
    ctx.lineTo(cx + h, cy - r / 2);
    ctx.lineTo(cx, cy + r);
    ctx.closePath();
    ctx.fillStyle = '#0000ff';
  }
  ctx.fill();
  ctx.lineWidth = 1; ctx.strokeStyle = '#000'; ctx.stroke();
}

function makeDeco(p) {
  return {
    id: 'panelDeco',
    beforeDatasetsDraw(chart) {
      const { ctx, chartArea: a, scales: { x, y } } = chart;
      const L = a.left, R = a.right, T = a.top, B = a.bottom;
      const n = Math.round(p.max / p.step);
      ctx.save();
      ctx.strokeStyle = '#000';
      // dotted horizontal grid
      ctx.lineWidth = 1.2; ctx.setLineDash([1.6, 1.8]);
      for (let k = 1; k <= n; k++) {
        const py = Math.round(y.getPixelForValue(k * p.step)) + 0.5;
        seg(ctx, L, py, R, py);
      }
      // dotted vertical grid at every 1 January
      ctx.lineWidth = 1; ctx.setLineDash([1, 2]);
      for (let yr = 1997; yr <= 2020; yr++) {
        const px = Math.round(x.getPixelForValue(yr)) + 0.5;
        seg(ctx, px, T, px, B);
      }
      ctx.setLineDash([]);
      // axis lines
      ctx.lineWidth = 1.5;
      seg(ctx, L, T, L, B + 0.75);
      seg(ctx, L, B, R, B);
      // y ticks pointing inward, minor ones halfway
      ctx.lineWidth = 1;
      for (let k = 0; k <= 2 * n; k++) {
        const py = Math.round(y.getPixelForValue(k * p.step / 2)) + 0.5;
        seg(ctx, L, py, L + (k % 2 ? 4 : 7), py);
      }
      // x ticks: monthly, longer at each year start
      for (let yr = 1996; yr <= 2020; yr++) {
        for (let m = 0; m < 12; m++) {
          const v = yr + m / 12;
          if (v <= X_MIN || v > X_MAX) continue;
          const px = Math.round(x.getPixelForValue(v)) + 0.5;
          seg(ctx, px, B, px, B - (m === 0 ? 7 : 3.5));
        }
      }
      // y tick labels with decimal comma
      ctx.fillStyle = '#000';
      ctx.font = '18px ' + FONT;
      ctx.textAlign = 'right';
      ctx.textBaseline = 'middle';
      for (let k = 0; k <= n; k++) {
        const v = k * p.step;
        ctx.fillText(v.toFixed(2).replace('.', ','), L - 10, y.getPixelForValue(v) + 1);
      }
      ctx.restore();
    },
    afterDatasetsDraw(chart) {
      if (!p.legend) return;
      const { ctx } = chart;
      const ds = chart.data.datasets;
      const rows = [
        { label: ds[1].label, kind: 'circle', y: 49 },
        { label: ds[0].label, kind: 'tri', y: 69 }
      ];
      ctx.save();
      ctx.fillStyle = '#fff';
      ctx.fillRect(333, 20, 200, 69);
      rows.forEach(r => {
        ctx.strokeStyle = '#000'; ctx.lineWidth = 1;
        seg(ctx, 343, r.y + 0.5, 383, r.y + 0.5);
        legendMarker(ctx, r.kind, 363, r.y + 0.5);
        ctx.fillStyle = '#000';
        ctx.font = '16px ' + FONT;
        ctx.textBaseline = 'middle';
        ctx.textAlign = 'left';
        ctx.fillText(r.label, 392, r.y + 1);
      });
      ctx.restore();
    },
    afterDraw(chart) {
      const { ctx, chartArea: a } = chart;
      const big = '17px ' + FONT, small = '12px ' + FONT;
      const items = [];
      let w = 0, subStart = null;
      ctx.save();
      p.title.forEach(([t, k]) => {
        ctx.font = k ? small : big;
        const tw = ctx.measureText(t).width;
        if (k === 2 && subStart !== null) {
          items.push({ t, k, x: subStart });
          w = Math.max(w, subStart + tw);
          subStart = null;
        } else {
          items.push({ t, k, x: w });
          subStart = (k === 1) ? w : null;
          w += tw;
        }
      });
      ctx.translate(26, (a.top + a.bottom) / 2);
      ctx.rotate(-Math.PI / 2);
      ctx.fillStyle = '#000';
      ctx.textBaseline = 'alphabetic';
      ctx.textAlign = 'left';
      items.forEach(it => {
        ctx.font = it.k ? small : big;
        const dy = it.k === 1 ? 10 : it.k === 2 ? -1 : 6;
        ctx.fillText(it.t, it.x - w / 2, dy);
      });
      ctx.restore();
    }
  };
}

const toPoints = arr => arr.map(([x, y]) => ({ x, y }));

panels.forEach(p => {
  const chart = new Chart(document.getElementById(p.canvas), {
    type: 'scatter',
    data: {
      datasets: [
        {
          label: 'Oder Grundablass',
          data: toPoints(p.grund),
          order: 0,
          showLine: true,
          borderColor: '#000',
          borderWidth: 1,
          pointStyle: 'triangle',
          pointRotation: 180,
          pointRadius: 5.2,
          pointBackgroundColor: '#0000ff',
          pointBorderColor: '#000',
          pointBorderWidth: 1,
          clip: { left: 8, right: 8, top: 1, bottom: 8 }
        },
        {
          label: 'Oder Einlauf',
          data: toPoints(p.einlauf),
          order: 1,
          showLine: true,
          borderColor: '#000',
          borderWidth: 1,
          pointStyle: 'circle',
          pointRadius: 4.2,
          pointBackgroundColor: '#ff0000',
          pointBorderColor: '#000',
          pointBorderWidth: 1,
          clip: { left: 8, right: 8, top: 1, bottom: 8 }
        }
      ]
    },
    options: {
      responsive: false,
      animation: false,
      devicePixelRatio: 1,
      events: [],
      layout: { autoPadding: false, padding: { top: PLOT_TOP, left: 0, right: 0, bottom: 0 } },
      plugins: { legend: { display: false }, tooltip: { enabled: false } },
      scales: {
        x: {
          type: 'linear', position: 'bottom', min: X_MIN, max: X_MAX,
          afterFit(s) { s.height = 38; },
          grid: { display: false, drawTicks: false },
          border: { display: false },
          ticks: {
            stepSize: 1, autoSkip: false, includeBounds: false,
            maxRotation: 0, minRotation: 0, padding: 8, labelOffset: -6,
            color: '#000', font: { size: 19 },
            callback(v) {
              const r = Math.round(v);
              const i = r - 1997;
              return (Math.abs(v - r) < 1e-6 && i >= 0 && i < yearTickLabels.length) ? yearTickLabels[i] : '';
            }
          }
        },
        y: {
          type: 'linear', min: 0, max: p.max,
          afterFit(s) { s.width = 102; },
          grid: { display: false, drawTicks: false },
          border: { display: false },
          ticks: { display: false, stepSize: p.step, padding: 0 }
        }
      }
    },
    plugins: [makeDeco(p)]
  });
  // pin the plot frame to the intended top/bottom if the layout pass shifted it
  const dTop = chart.chartArea.top - PLOT_TOP;
  const dBottom = chart.chartArea.bottom - (PLOT_TOP + p.plotH);
  if (Math.abs(dTop) > 0.25 || Math.abs(dBottom) > 0.25) {
    chart.options.layout.padding = { top: PLOT_TOP - dTop, left: 0, right: 0, bottom: Math.max(0, dBottom) };
    chart.update();
  }
});
</script>
</body>
</html>
